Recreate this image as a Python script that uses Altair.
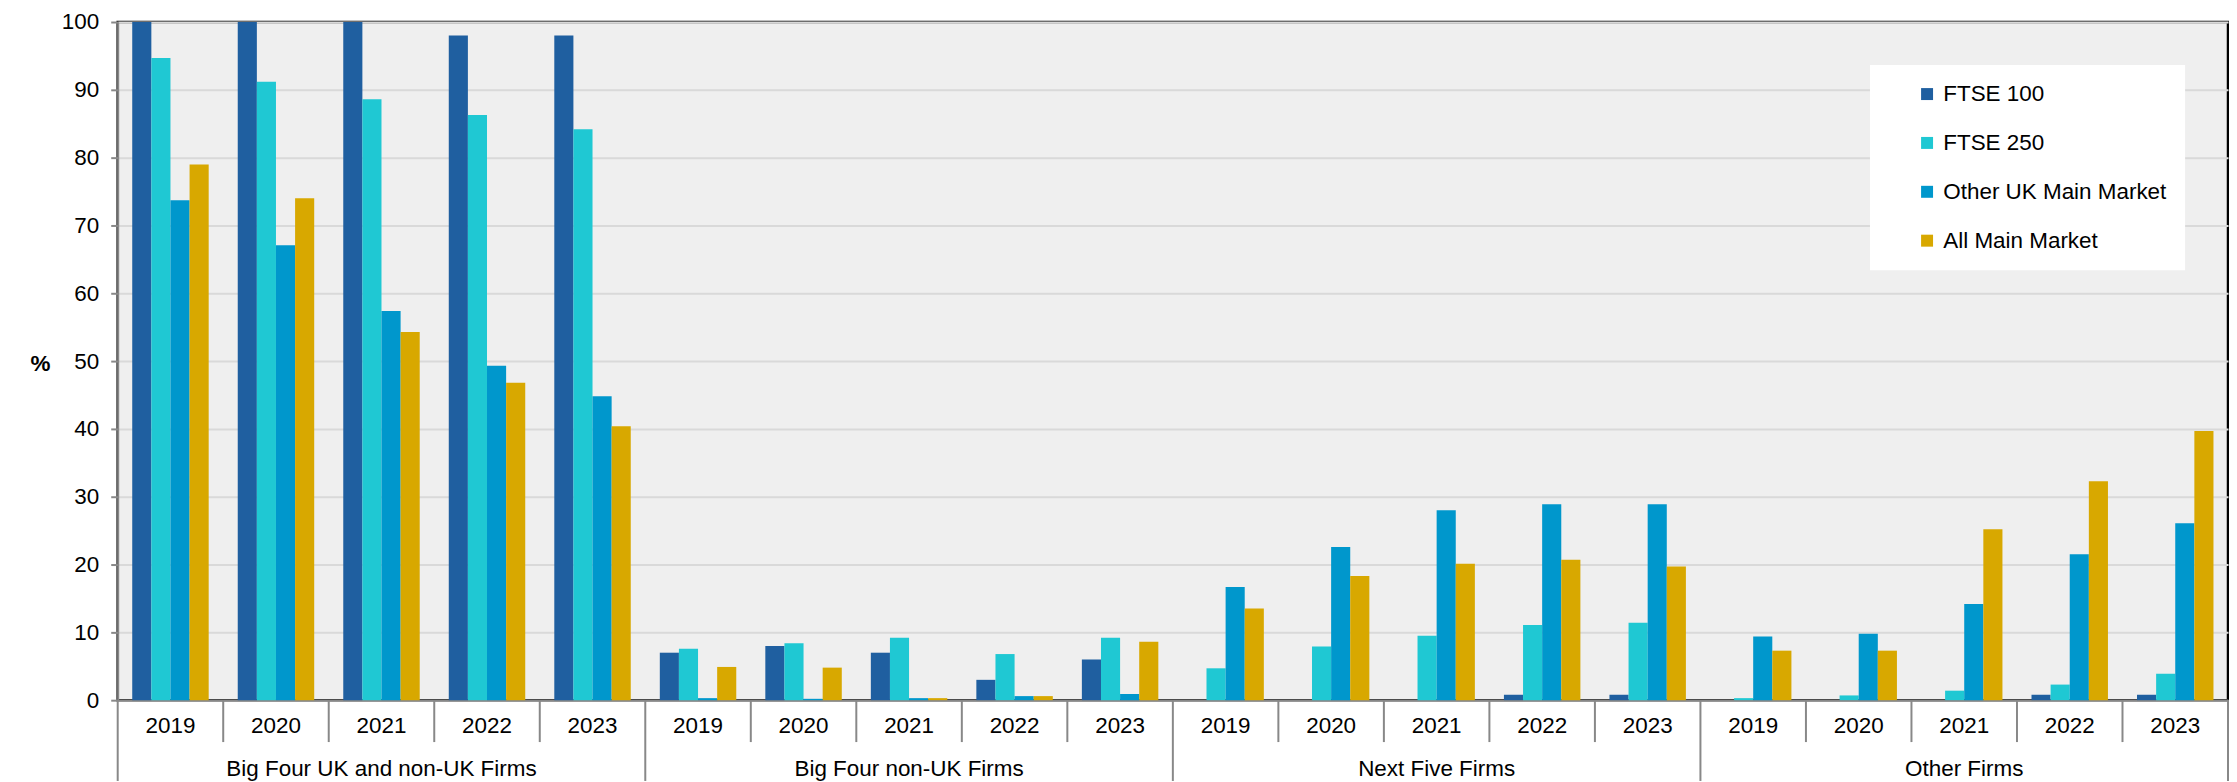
import altair as alt
import pandas as pd

groups = ["Big Four UK and non-UK Firms", "Big Four non-UK Firms", "Next Five Firms", "Other Firms"]
years = ["2019", "2020", "2021", "2022", "2023"]
series = ["FTSE 100", "FTSE 250", "Other UK Main Market", "All Main Market"]
colors = ["#1f5fa0", "#1fc8d3", "#0097cc", "#d8a800"]

# values per series, group by group, 2019..2023
ftse100 = [100, 100, 100, 98, 98,
           7.0, 8.0, 7.0, 3.0, 6.0,
           0, 0, 0, 0.8, 0.8,
           0, 0, 0, 0.8, 0.8]
ftse250 = [94.7, 91.2, 88.6, 86.3, 84.2,
           7.6, 8.4, 9.2, 6.8, 9.2,
           4.7, 7.9, 9.5, 11.1, 11.4,
           0.3, 0.7, 1.4, 2.3, 3.9]
other_uk = [73.7, 67.1, 57.4, 49.3, 44.8,
            0.3, 0.2, 0.3, 0.6, 0.9,
            16.7, 22.6, 28.0, 28.9, 28.9,
            9.4, 9.8, 14.2, 21.5, 26.1]
all_main = [79.0, 74.0, 54.3, 46.8, 40.4,
            4.9, 4.8, 0.3, 0.6, 8.6,
            13.5, 18.3, 20.1, 20.7, 19.7,
            7.3, 7.3, 25.2, 32.3, 39.7]

keys = [f"{g}|{y}" for g in groups for y in years]
rows = []
for s, vals in zip(series, [ftse100, ftse250, other_uk, all_main]):
    for k, v in zip(keys, vals):
        g, y = k.split("|")
        rows.append({"key": k, "group": g, "year": y, "series": s, "value": v})
df = pd.DataFrame(rows)

cats = pd.DataFrame({"key": keys, "group": [k.split("|")[0] for k in keys], "year": [k.split("|")[1] for k in keys]})

W, H = 2116, 680
GRAY = "#888888"
FS = 22.5

x_axis = alt.Axis(labels=False, ticks=False, title=None, grid=False, domainColor=GRAY, domainWidth=2)


def xenc(band=0.5):
    return alt.X("key:N", sort=keys, scale=alt.Scale(paddingInner=0, paddingOuter=0),
                 axis=x_axis, bandPosition=band)


bars = alt.Chart(df).mark_bar().encode(
    x=xenc(),
    xOffset=alt.XOffset("series:N", sort=series, scale=alt.Scale(paddingInner=0, paddingOuter=0.76)),
    y=alt.Y("value:Q", scale=alt.Scale(domain=[0, 100], nice=False),
            axis=alt.Axis(values=list(range(0, 101, 10)), title="%", titleAngle=0, titleFontSize=FS,
                          titleFontWeight="bold", titleX=-78, titleY=342, titleAlign="center",
                          titleBaseline="middle", labelFontSize=FS, labelColor="black", labelPadding=12,
                          tickSize=7, tickColor=GRAY, tickWidth=2, domainColor=GRAY, domainWidth=2,
                          gridColor="#d9d9d9", gridWidth=2)),
    color=alt.Color("series:N", sort=series, scale=alt.Scale(domain=series, range=colors),
                    legend=alt.Legend(title=None, orient="none", legendX=1757, legendY=43,
                                      fillColor="white", padding=18, symbolType="square",
                                      symbolSize=144, symbolStrokeWidth=0, symbolOffset=28,
                                      labelOffset=5, labelFontSize=FS, labelColor="black",
                                      labelLimit=500, rowPadding=26)),
)

year_sep = alt.Chart(cats[cats["year"] != "2019"]).mark_rule(color=GRAY, strokeWidth=2).encode(
    x=xenc(0), y=alt.value(H), y2=alt.value(H + 42))
group_sep = alt.Chart(cats[cats["year"] == "2019"]).mark_rule(color=GRAY, strokeWidth=2).encode(
    x=xenc(0), y=alt.value(H), y2=alt.value(H + 81))
end_sep = alt.Chart(cats.tail(1)).mark_rule(color=GRAY, strokeWidth=2).encode(
    x=xenc(1), y=alt.value(H), y2=alt.value(H + 81))

year_text = alt.Chart(cats).mark_text(fontSize=FS, baseline="middle", color="black").encode(
    x=xenc(), y=alt.value(H + 26), text="year:N")
group_text = alt.Chart(cats[cats["year"] == "2021"]).mark_text(fontSize=FS, baseline="middle", color="black").encode(
    x=xenc(), y=alt.value(H + 69), text="group:N")

chart = alt.layer(bars, year_sep, group_sep, end_sep, year_text, group_text).properties(
    width=W, height=H, padding={"left": 21, "top": 2, "right": 0, "bottom": 0}
).configure(font="Liberation Sans").configure_view(stroke="black", strokeWidth=2.5, fill="#efefef")

chart.save("out.html", embed_options={"renderer": "svg", "actions": False})
